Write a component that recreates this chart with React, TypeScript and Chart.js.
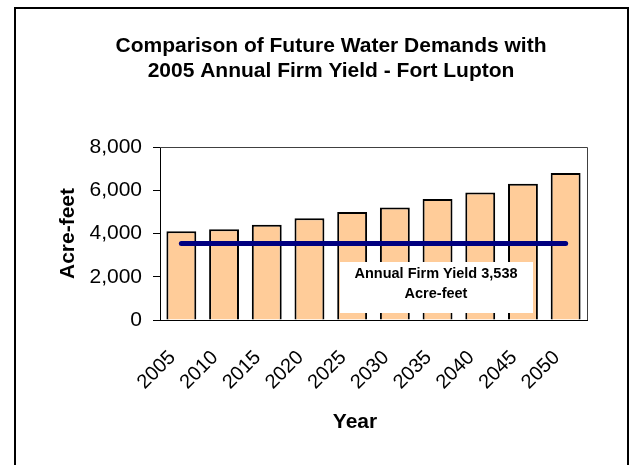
import React, { useEffect, useRef } from "react";
import { Chart, registerables } from "chart.js";

Chart.register(...registerables);

const years = ["2005", "2010", "2015", "2020", "2025", "2030", "2035", "2040", "2045", "2050"];
const demands = [4100, 4200, 4400, 4700, 5000, 5200, 5600, 5900, 6300, 6800];
const firmYield = [3538, 3538, 3538, 3538, 3538, 3538, 3538, 3538, 3538, 3538];
const yTicks = [0, 2000, 4000, 6000, 8000];
const titleLines = ["Comparison of Future Water Demands with", "2005 Annual Firm Yield - Fort Lupton"];
const annotationLines = ["Annual Firm Yield 3,538", "Acre-feet"];
const xTitle = "Year";
const yTitle = "Acre-feet";

const FONT = "Arial, 'Liberation Sans', sans-serif";

const decorPlugin = {
  id: "decor",
  beforeDraw(chart: any) {
    const ctx = chart.ctx;
    ctx.save();
    ctx.fillStyle = "#ffffff";
    ctx.fillRect(0, 0, chart.width, chart.height);
    ctx.restore();
  },
  afterDatasetsDraw(chart: any) {
    const ctx = chart.ctx;
    const a = chart.chartArea;
    // annotation box
    const bx = a.left + 180;
    const by = a.top + 115;
    const bw = 193;
    const bh = 51;
    ctx.save();
    ctx.fillStyle = "#ffffff";
    ctx.fillRect(bx, by, bw, bh);
    ctx.fillStyle = "#000";
    ctx.font = `bold 14.5px ${FONT}`;
    ctx.textAlign = "center";
    ctx.textBaseline = "middle";
    ctx.fillText(annotationLines[0], bx + 96, by + 12);
    ctx.fillText(annotationLines[1], bx + 96, by + 32);
    ctx.restore();
  },
  afterDraw(chart: any) {
    const ctx = chart.ctx;
    const a = chart.chartArea;
    ctx.save();
    // plot frame top/right
    ctx.strokeStyle = "#404040";
    ctx.lineWidth = 1;
    ctx.beginPath();
    ctx.moveTo(a.left, a.top + 0.5);
    ctx.lineTo(a.right + 0.5, a.top + 0.5);
    ctx.lineTo(a.right + 0.5, a.bottom);
    ctx.stroke();
    // outer frame
    ctx.strokeStyle = "#000";
    ctx.lineWidth = 2;
    ctx.strokeRect(15, 8, 613, 500);
    // title
    ctx.fillStyle = "#000";
    ctx.font = `bold 21px ${FONT}`;
    ctx.textAlign = "center";
    ctx.textBaseline = "middle";
    ctx.fillText(titleLines[0], 331, 46);
    ctx.fillText(titleLines[1], 331, 71);
    // x title
    ctx.fillText(xTitle, 355, 422);
    // y title
    ctx.translate(68, (a.top + a.bottom) / 2);
    ctx.rotate(-Math.PI / 2);
    ctx.fillText(yTitle, 0, 0);
    ctx.restore();
  },
};

export default function App() {
  const ref = useRef<HTMLCanvasElement | null>(null);
  useEffect(() => {
    if (!ref.current) return;
    const chart = new Chart(ref.current, {
      type: "bar",
      data: {
        labels: years,
        datasets: [
          {
            type: "line",
            label: "Annual Firm Yield",
            data: firmYield,
            borderColor: "#000080",
            borderWidth: 5,
            borderCapStyle: "round",
            pointRadius: 0,
            fill: false,
            order: 0,
          } as any,
          {
            type: "bar",
            label: "Demand",
            data: demands,
            backgroundColor: "#FFCC99",
            borderColor: "#000",
            borderWidth: 2,
            barPercentage: 0.7,
            categoryPercentage: 1,
            order: 1,
          },
        ],
      },
      options: {
        responsive: false,
        animation: false,
        layout: { padding: { top: 147, right: 43, left: 0, bottom: 0 } },
        plugins: { legend: { display: false }, tooltip: { enabled: false }, title: { display: false } },
        scales: {
          x: {
            grid: { display: false, drawTicks: false },
            border: { display: true, color: "#000", width: 1 },
            ticks: {
              autoSkip: false,
              minRotation: 45,
              maxRotation: 45,
              padding: 26,
              labelOffset: -9,
              color: "#000",
              font: { family: FONT, size: 20 },
            },
            afterFit: (s: any) => {
              s.height = 145;
            },
          },
          y: {
            min: 0,
            max: 8000,
            afterBuildTicks: (s: any) => {
              s.ticks = yTicks.map((v) => ({ value: v }));
            },
            grid: { drawOnChartArea: false, drawTicks: true, tickLength: 7, color: "#000" },
            border: { display: true, color: "#000", width: 1 },
            ticks: {
              padding: 11,
              color: "#000",
              font: { family: FONT, size: 21 },
              callback: (v: any) => Number(v).toLocaleString("en-US"),
            },
            afterFit: (s: any) => {
              s.width = 160;
            },
          },
        },
      },
      plugins: [decorPlugin],
    });
    return () => chart.destroy();
  }, []);
  return (
    <div style={{ position: "absolute", left: 0, top: 0, width: 630, height: 465 }}>
      <canvas ref={ref} width={630} height={465} style={{ width: 630, height: 465 }} />
    </div>
  );
}
